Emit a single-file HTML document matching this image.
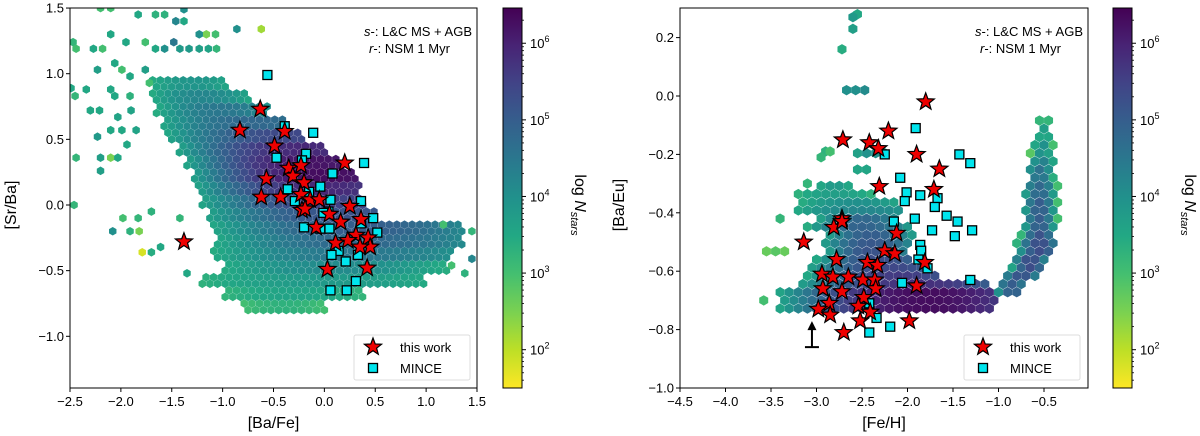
<!DOCTYPE html>
<html><head><meta charset="utf-8">
<style>
body{margin:0;background:#fff;}
svg{display:block;font-family:"Liberation Sans","DejaVu Sans",sans-serif;}
.tk{font-size:13px;fill:#000;}
.lab{font-size:16px;fill:#000;}
</style></head>
<body>
<svg id="fig" width="1200" height="436" viewBox="0 0 1200 436" xmlns="http://www.w3.org/2000/svg">
<defs>
<linearGradient id="vir" x1="0" y1="0" x2="0" y2="1">
<stop offset="0" stop-color="#440154"/><stop offset="0.1" stop-color="#482475"/><stop offset="0.2" stop-color="#414487"/><stop offset="0.3" stop-color="#355f8d"/><stop offset="0.4" stop-color="#2a788e"/><stop offset="0.5" stop-color="#21918c"/><stop offset="0.6" stop-color="#22a884"/><stop offset="0.7" stop-color="#44bf70"/><stop offset="0.8" stop-color="#7ad151"/><stop offset="0.9" stop-color="#bddf26"/><stop offset="1" stop-color="#fde725"/>
</linearGradient>
<clipPath id="clipL"><rect x="70" y="8" width="407" height="380"/></clipPath>
<clipPath id="clipR"><rect x="680" y="8" width="408" height="380"/></clipPath>
</defs>
<g id="left"></g>
<g id="right"></g>
</svg>
<script>
// ---- Left panel data ----
const leftXTicks=[-2.5,-2.0,-1.5,-1.0,-0.5,0.0,0.5,1.0,1.5];
const leftYTicks=[1.5,1.0,0.5,0.0,-0.5,-1.0];
// hex density bands: [yLo,yHi,x0,x1,xPeak,peakLogN,edgeLogN]
const leftBands=[[0.9,1.0,-1.7,-0.95,-1.3,3.9,3.4],[0.8,0.9,-1.7,-0.75,-1.2,4.2,3.4],[0.7,0.8,-1.65,-0.55,-1.0,4.5,3.4],[0.6,0.7,-1.6,-0.35,-0.7,4.8,3.5],[0.5,0.6,-1.55,-0.2,-0.3,5.4,3.5],[0.4,0.5,-1.45,0.0,-0.2,5.9,3.5],[0.3,0.4,-1.35,0.15,-0.1,6.2,3.6],[0.2,0.3,-1.3,0.3,0.0,6.3,3.6],[0.1,0.2,-1.25,0.35,0.0,5.9,3.6],[0.0,0.1,-1.2,0.4,0.1,5.5,3.6],[-0.1,0.0,-1.15,0.5,0.2,5.2,3.6],[-0.2,-0.1,-1.1,1.35,0.3,5.0,3.5],[-0.3,-0.2,-1.05,1.35,0.35,4.8,3.5],[-0.4,-0.3,-1.1,1.25,0.3,4.5,3.4],[-0.5,-0.4,-1.0,1.2,0.1,4.1,3.4],[-0.6,-0.5,-1.2,1.0,0.0,3.8,3.3],[-0.7,-0.6,-1.0,0.4,-0.3,3.6,3.2],[-0.8,-0.7,-0.8,0.0,-0.4,3.3,3.0]];
const leftScatterX=[-2.2,-2.1,-1.83,-1.66,-1.57,-1.38,-1.46,-1.38,-0.86,-0.62,-1.16,-1.07,-1.23,-2.47,-2.44,-2.27,-2.18,-2.1,-1.95,-1.76,-1.66,-1.57,-1.48,-1.42,-1.33,-1.23,-1.14,-1.06,-2.06,-1.99,-2.23,-1.91,-1.76,-1.72,-2.49,-2.45,-2.34,-2.1,-2.06,-1.91,-2.3,-2.21,-2.03,-1.9,-2.1,-1.85,-1.99,-2.23,-1.94,-2.44,-2.2,-2.1,-2.03,-2.2,-2.46,-1.7,-1.98,-1.83,-1.42,-2.08,-1.91,-1.82,-1.79,-1.7,-1.61,-1.35,1.17,1.45,1.45,1.38,1.25];
const leftScatterY=[1.5,1.5,1.45,1.45,1.45,1.49,1.4,1.4,1.34,1.34,1.3,1.3,1.3,1.24,1.19,1.19,1.19,1.3,1.24,1.24,1.19,1.19,1.24,1.19,1.19,1.19,1.19,1.19,1.08,1.03,1.03,0.98,1.03,0.93,0.89,0.83,0.88,0.88,0.83,0.83,0.72,0.72,0.67,0.72,0.57,0.57,0.57,0.52,0.46,0.36,0.36,0.36,0.36,0.26,0.0,-0.05,-0.1,-0.1,-0.1,-0.2,-0.2,-0.2,-0.36,-0.36,-0.32,-0.52,-0.15,-0.2,-0.41,-0.52,-0.46];
const leftScatterV=[3.0,3.0,3.5,3.3,3.3,4.0,4.2,3.5,4.0,2.2,2.5,3.0,4.0,3.2,3.0,3.5,3.0,3.5,3.5,3.0,3.5,4.0,4.5,3.8,3.8,3.7,3.6,3.2,3.5,3.0,3.7,3.5,3.7,3.0,3.5,3.2,3.5,3.5,3.5,3.3,3.5,3.5,3.6,3.6,3.5,3.6,3.5,3.8,3.5,3.2,3.7,2.5,3.5,3.7,3.2,3.3,3.0,3.2,3.2,4.0,3.3,2.5,1.8,3.4,3.5,3.5,3.0,3.2,4.2,3.3,3.0];
const leftStarX=[-0.63,-0.83,-0.39,-0.49,-0.35,-0.23,-0.31,-0.57,-0.2,-0.62,-0.43,-0.23,-0.14,-0.05,-0.22,-0.19,0.25,0.05,0.16,-0.08,0.36,0.31,0.23,0.11,0.43,0.45,0.35,-1.38,0.03,0.42,0.2];
const leftStarY=[0.73,0.57,0.56,0.45,0.28,0.3,0.22,0.2,0.17,0.06,0.06,0.08,0.04,0.04,-0.04,-0.03,-0.01,-0.07,-0.13,-0.17,-0.11,-0.23,-0.27,-0.29,-0.25,-0.32,-0.32,-0.28,-0.49,-0.48,0.32];
const leftSqX=[-0.56,-0.39,-0.11,-0.47,-0.18,-0.22,0.39,0.08,-0.04,-0.36,-0.15,-0.29,0.06,0.04,0.36,-0.01,0.48,0.36,0.52,-0.2,-0.04,0.05,0.14,0.07,0.33,0.21,0.31,0.06,0.22];
const leftSqY=[0.99,0.6,0.55,0.36,0.39,0.34,0.32,0.24,0.14,0.12,0.1,0.03,0.04,-0.05,0.03,-0.06,-0.1,-0.14,-0.21,-0.17,-0.18,-0.18,-0.35,-0.38,-0.38,-0.43,-0.58,-0.65,-0.65];

// ---- Right panel data ----
const rightXTicks=[-4.5,-4.0,-3.5,-3.0,-2.5,-2.0,-1.5,-1.0,-0.5];
const rightYTicks=[0.2,0.0,-0.2,-0.4,-0.6,-0.8,-1.0];
const rightBands=[[-0.22,-0.18,-2.6,-2.2,-2.4,4.0,3.4],[-0.27,-0.23,-2.6,-2.45,-2.5,3.6,3.4],[-0.31,-0.28,-2.95,-2.6,-2.8,3.8,3.3],[-0.34,-0.31,-3.2,-2.35,-2.8,3.7,3.2],[-0.38,-0.34,-3.2,-2.1,-2.6,4.0,3.3],[-0.41,-0.38,-3.3,-2.05,-2.5,4.2,3.3],[-0.44,-0.41,-3.0,-2.1,-2.5,4.8,3.4],[-0.47,-0.44,-3.1,-2.0,-2.5,4.9,3.4],[-0.50,-0.47,-2.9,-1.9,-2.4,5.0,3.5],[-0.53,-0.50,-2.95,-1.95,-2.4,5.1,3.5],[-0.555,-0.525,-3.6,-3.3,-3.45,2.8,2.5],[-0.555,-0.525,-2.9,-2.0,-2.4,5.2,3.5],[-0.58,-0.555,-3.0,-1.95,-2.3,5.3,3.5],[-0.61,-0.58,-3.1,-1.8,-2.2,5.4,3.5],[-0.64,-0.61,-3.1,-1.7,-2.1,5.6,3.5],[-0.67,-0.64,-3.2,-1.1,-1.9,5.8,3.6],[-0.735,-0.67,-3.4,-1.05,-1.8,6.3,3.6],[-0.68,-0.64,-1.0,-0.75,-0.85,5.0,4.0],[-0.64,-0.6,-0.95,-0.6,-0.75,5.2,3.8],[-0.6,-0.55,-0.85,-0.5,-0.65,5.3,3.6],[-0.55,-0.5,-0.8,-0.4,-0.55,5.3,3.3],[-0.5,-0.45,-0.75,-0.38,-0.55,5.2,3.2],[-0.45,-0.4,-0.72,-0.35,-0.55,5.0,3.0],[-0.4,-0.35,-0.72,-0.35,-0.55,5.0,3.0],[-0.35,-0.3,-0.72,-0.35,-0.55,4.8,3.0],[-0.3,-0.25,-0.7,-0.38,-0.55,4.6,3.0],[-0.25,-0.2,-0.68,-0.38,-0.52,4.3,3.0],[-0.2,-0.15,-0.65,-0.4,-0.52,4.0,2.8],[-0.15,-0.1,-0.6,-0.42,-0.5,3.7,3.0],[-0.1,-0.07,-0.55,-0.45,-0.5,3.4,3.2]];
const rightScatterX=[-2.55,-2.6,-2.6,-2.72,-2.67,-2.57,-2.47,-2.9,-2.85,-2.95,-3.1,-3.4,-3.58];
const rightScatterY=[0.28,0.27,0.23,0.16,0.02,0.02,0.02,-0.19,-0.19,-0.21,-0.3,-0.42,-0.7];
const rightScatterV=[3.5,3.8,3.7,3.4,4.0,4.0,4.1,3.3,3.0,3.2,3.2,3.2,3.0];
const rightStarX=[-1.8,-2.21,-2.71,-2.42,-2.32,-1.9,-1.65,-2.31,-1.71,-2.72,-2.81,-2.72,-3.14,-2.12,-2.25,-2.14,-2.78,-2.44,-2.33,-1.81,-2.94,-2.82,-2.65,-2.49,-2.36,-2.93,-2.72,-2.35,-1.9,-2.48,-2.86,-2.98,-2.54,-2.85,-2.52,-2.41,-1.98,-2.7];
const rightStarY=[-0.02,-0.12,-0.15,-0.16,-0.18,-0.2,-0.25,-0.31,-0.32,-0.42,-0.45,-0.43,-0.5,-0.47,-0.53,-0.54,-0.56,-0.57,-0.58,-0.57,-0.61,-0.62,-0.62,-0.63,-0.63,-0.66,-0.67,-0.66,-0.65,-0.69,-0.71,-0.73,-0.72,-0.75,-0.77,-0.74,-0.77,-0.81];
const rightSqX=[-1.91,-2.25,-1.43,-1.31,-2.08,-2.01,-2.03,-1.86,-1.67,-1.7,-1.57,-2.15,-1.92,-1.45,-1.73,-1.29,-1.48,-1.86,-1.85,-1.88,-1.78,-1.31,-2.06,-2.42,-2.34,-2.19,-2.42];
const rightSqY=[-0.11,-0.2,-0.2,-0.23,-0.28,-0.33,-0.36,-0.34,-0.35,-0.38,-0.41,-0.43,-0.42,-0.43,-0.46,-0.46,-0.48,-0.51,-0.53,-0.56,-0.59,-0.63,-0.64,-0.71,-0.76,-0.79,-0.81];
const arrowX=[-3.05];
const arrowY=[-0.86];

const cbarTicks=[2,3,4,5,6];
const NS="http://www.w3.org/2000/svg";
function mk(parent,tag,attrs){const e=document.createElementNS(NS,tag);for(const k in attrs)e.setAttribute(k,attrs[k]);parent.appendChild(e);return e;}
const VIR=["#440154","#482475","#414487","#355f8d","#2a788e","#21918c","#22a884","#44bf70","#7ad151","#bddf26","#fde725"];
function hx(h){return [parseInt(h.substr(1,2),16),parseInt(h.substr(3,2),16),parseInt(h.substr(5,2),16)];}
const VMAX=6.46,VMIN=1.5;
function col(v){let t=(VMAX-v)/(VMAX-VMIN);t=Math.max(0,Math.min(1,t));const f=t*10;const i=Math.min(9,Math.floor(f));const a=hx(VIR[i]),b=hx(VIR[i+1]);const r=f-i;return "rgb("+a.map((c,k)=>Math.round(c+(b[k]-c)*r)).join(",")+")";}
function hexPts(cx,cy,r){let p=[];for(let k=0;k<6;k++){const a=Math.PI/180*(60*k+30);p.push((cx+r*Math.cos(a)).toFixed(2)+","+(cy+r*Math.sin(a)).toFixed(2));}return p.join(" ");}
function starPts(cx,cy,R){const r=R*0.42;let p=[];for(let k=0;k<10;k++){const a=-Math.PI/2+k*Math.PI/5;const rr=k%2?r:R;p.push((cx+rr*Math.cos(a)).toFixed(2)+","+(cy+rr*Math.sin(a)).toFixed(2));}return p.join(" ");}

function panel(cfg){
  const g=document.getElementById(cfg.id);
  const X=cfg.X,Y=cfg.Y;
  const hg=mk(g,"g",{"clip-path":"url(#"+cfg.clip+")"});
  
  
  const dx=cfg.dx,dy=cfg.dy,r=cfg.r;
  const cells={};
  for(const b of cfg.bands){
    const j0=Math.ceil(b[0]/dy-1e-9),j1=Math.floor(b[1]/dy-1e-9);
    for(let j=j0;j<=j1;j++){
      const y=j*dy;if(y<b[0]-1e-9||y>=b[1]-1e-9)continue;
      const off=(Math.abs(j)%2)*dx/2;
      const i0=Math.ceil((b[2]-off)/dx),i1=Math.floor((b[3]-off)/dx);
      for(let i=i0;i<=i1;i++){
        const x=i*dx+off;
        const half=Math.max(b[4]-b[2],b[3]-b[4])||1;
        const d=Math.min(1,Math.abs(x-b[4])/half);
        const v=b[6]+(b[5]-b[6])*(1-d*d);
        const key=i+"_"+j;
        if(!cells[key]||cells[key][2]<v)cells[key]=[x,y,v];
      }
    }
  }
  for(const k in cells){const c=cells[k];
    const h=mk(hg,"polygon",{points:hexPts(X(c[0]),Y(c[1]),r),fill:col(c[2])});
    
    }
  for(let i=0;i<cfg.sx.length;i++){
    const h=mk(hg,"polygon",{points:hexPts(X(cfg.sx[i]),Y(cfg.sy[i]),r),fill:col(cfg.sv[i])});
    
    }
  const mg=mk(g,"g",{"clip-path":"url(#"+cfg.clip+")"});
  for(let i=0;i<cfg.qx.length;i++){
    const s=mk(mg,"rect",{x:X(cfg.qx[i])-4.5,y:Y(cfg.qy[i])-4.5,width:9,height:9,fill:"#00e5ee",stroke:"#000","stroke-width":1.3});
    
    }
  for(let i=0;i<cfg.stx.length;i++){
    const s=mk(mg,"polygon",{points:starPts(X(cfg.stx[i]),Y(cfg.sty[i]),9),fill:"#ee0000",stroke:"#000","stroke-width":1.2});
    
    }
  if(cfg.arrow){for(let i=0;i<arrowX.length;i++){const ax=X(arrowX[i]),ay=Y(arrowY[i]);
    const a=mk(g,"g",{});
    
    
    mk(a,"line",{x1:ax,y1:ay,x2:ax,y2:ay-20,stroke:"#000","stroke-width":2});
    mk(a,"line",{x1:ax-7,y1:ay,x2:ax+7,y2:ay,stroke:"#000","stroke-width":2});
    mk(a,"polygon",{points:(ax-4.5)+","+(ay-17)+" "+ax+","+(ay-26)+" "+(ax+4.5)+","+(ay-17),fill:"#000"});}}
  const fr=mk(g,"rect",{x:cfg.x0,y:8,width:cfg.x1-cfg.x0,height:380,fill:"none",stroke:"#000","stroke-width":1});
  
  
  for(const t of cfg.xt){const px=X(t);
    mk(g,"line",{x1:px,y1:388,x2:px,y2:392,stroke:"#000"});
    const tx=mk(g,"text",{x:px,y:406,"text-anchor":"middle",class:"tk"});tx.textContent=(t<0?"\u2212":"")+Math.abs(t).toFixed(1);
    
    }
  for(const t of cfg.yt){const py=Y(t);
    mk(g,"line",{x1:cfg.x0-4,y1:py,x2:cfg.x0,y2:py,stroke:"#000"});
    const tx=mk(g,"text",{x:cfg.x0-6,y:py+4.5,"text-anchor":"end",class:"tk"});tx.textContent=(t<0?"\u2212":"")+Math.abs(t).toFixed(1);
    
    }
  const xl=mk(g,"text",{x:(cfg.x0+cfg.x1)/2,y:428,"text-anchor":"middle",class:"lab"});xl.textContent=cfg.xlab;
  
  
  const yl=mk(g,"text",{x:cfg.ylx,y:205,"text-anchor":"middle",class:"lab",transform:"rotate(-90 "+cfg.ylx+" 205)"});yl.textContent=cfg.ylab;
  
  
  const an=mk(g,"text",{x:cfg.x1-5,y:36,"text-anchor":"end",style:"font-size:13px"});
  
  
  an.innerHTML='<tspan font-style="italic">s</tspan>-: L&amp;C MS + AGB';
  const an2=mk(g,"text",{x:cfg.x1-108,y:53,style:"font-size:13px"});
  an2.innerHTML='<tspan font-style="italic">r</tspan>-: NSM 1 Myr';
  
  
  const lx=cfg.lx;
  const lg=mk(g,"g",{});
  
  
  mk(lg,"rect",{x:lx,y:335,width:116,height:45,rx:2,fill:"#fff",stroke:"#ddd"});
  mk(lg,"polygon",{points:starPts(lx+19,347,9),fill:"#ee0000",stroke:"#000","stroke-width":1.2});
  mk(lg,"rect",{x:lx+14.5,y:363.5,width:9,height:9,fill:"#00e5ee",stroke:"#000","stroke-width":1.3});
  const t1=mk(lg,"text",{x:lx+46,y:352,style:"font-size:13px"});t1.textContent="this work";
  
  
  const t2=mk(lg,"text",{x:lx+46,y:373,style:"font-size:13px"});t2.textContent="MINCE";
  
  
  const cb=mk(g,"g",{});
  
  
  const cx=cfg.cbx,w=19;
  const CY=v=>8+(VMAX-v)/(VMAX-VMIN)*380;
  mk(cb,"rect",{x:cx,y:8,width:w,height:380,fill:"url(#vir)",stroke:"#000","stroke-width":1});
  for(let d=1;d<=6;d++){for(let m=2;m<=9;m++){const v=d+Math.log10(m);if(v<VMIN||v>VMAX)continue;mk(cb,"line",{x1:cx+w,y1:CY(v),x2:cx+w+2,y2:CY(v),stroke:"#000","stroke-width":0.8});}}
  for(const t of cbarTicks){const py=CY(t);mk(cb,"line",{x1:cx+w,y1:py,x2:cx+w+4,y2:py,stroke:"#000"});
    const tx=mk(cb,"text",{x:cx+w+8,y:py+5,class:"tk"});tx.innerHTML='10<tspan dy="-6" style="font-size:9px">'+t+'</tspan>';
    
    }
  const cl=mk(cb,"text",{x:cx+72,y:205,"text-anchor":"middle",class:"lab",transform:"rotate(90 "+(cx+72)+" 205)"});
  cl.innerHTML='log <tspan font-style="italic">N</tspan><tspan dy="4" style="font-size:11px;font-style:italic">stars</tspan>';
  
  
}

panel({id:"left",clip:"clipL",X:v=>70+(v+2.5)*101.75,Y:v=>205-v*131.3,x0:70,x1:477,
  bands:leftBands,dx:0.075,dy:0.05,r:4.3,sx:leftScatterX,sy:leftScatterY,sv:leftScatterV,
  qx:leftSqX,qy:leftSqY,stx:leftStarX,sty:leftStarY,xt:leftXTicks,yt:leftYTicks,
  xlab:"[Ba/Fe]",ylab:"[Sr/Ba]",ylx:16,lx:354,cbx:503,arrow:false});
panel({id:"right",clip:"clipR",X:v=>680+(v+4.5)*91,Y:v=>96-v*292,x0:680,x1:1088,
  bands:rightBands,dx:0.1,dy:0.028,r:5.2,sx:rightScatterX,sy:rightScatterY,sv:rightScatterV,
  qx:rightSqX,qy:rightSqY,stx:rightStarX,sty:rightStarY,xt:rightXTicks,yt:rightYTicks,
  xlab:"[Fe/H]",ylab:"[Ba/Eu]",ylx:624,lx:964,cbx:1113,arrow:true});
</script>
</body></html>
